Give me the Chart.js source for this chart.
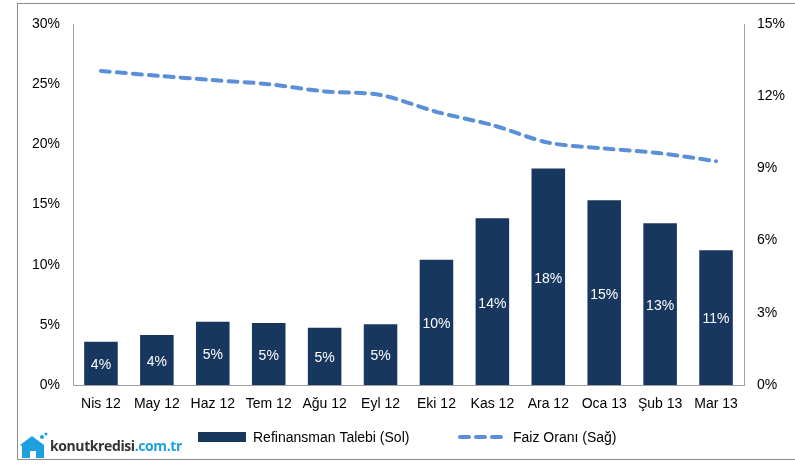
<!DOCTYPE html>
<html>
<head>
<meta charset="utf-8">
<script src="https://cdn.jsdelivr.net/npm/chart.js@4.4.0/dist/chart.umd.min.js"></script>
<style>
  html, body { margin: 0; padding: 0; background: #fff; }
  #wrap { position: relative; width: 795px; height: 464px; overflow: hidden; }
  #frame { position: absolute; left: 17px; top: 3px; width: 800px; height: 457px; border: 1px solid #8c8c8c; box-sizing: border-box; }
  #grafico { position: absolute; left: 0; top: 0; }
  #logo { position: absolute; left: 18px; top: 430px; height: 30px; display: flex; align-items: center; font-family: "Open Sans", "Liberation Sans", sans-serif; font-size: 14px; letter-spacing: -0.4px; }
  #logo .k { color: #333; font-weight: 700; }
  #logo .c { color: #1ea0de; font-weight: 700; }
</style>
</head>
<body>
<div id="wrap">
  <div id="frame"></div>
  <canvas id="grafico" width="795" height="464"></canvas>
  <div id="logo">
    <svg width="32" height="28" viewBox="0 0 32 28">
      <path d="M2 14 L14 5 L26 14 L26 27 L18 27 L18 20 L12 20 L12 27 L4 27 L4 15 Z" fill="#1ea0de"/>
      <circle cx="24" cy="6" r="2" fill="#1ea0de"/>
      <circle cx="28" cy="3" r="1.5" fill="#1ea0de"/>
    </svg>
    <span class="k">konutkredisi</span><span class="c">.com.tr</span>
  </div>
</div>
<script>
const meses = ["Nis 12", "May 12", "Haz 12", "Tem 12", "Ağu 12", "Eyl 12", "Eki 12", "Kas 12", "Ara 12", "Oca 13", "Şub 13", "Mar 13"];
const refinansman = [3.6, 4.15, 5.25, 5.15, 4.75, 5.05, 10.4, 13.85, 18.0, 15.35, 13.45, 11.2];
const faizOrani = [13.05, 12.85, 12.67, 12.5, 12.2, 12.05, 11.35, 10.8, 10.07, 9.83, 9.63, 9.3];
const nomeBarra = "Refinansman Talebi (Sol)";
const nomeLinha = "Faiz Oranı (Sağ)";

const corBarra = "#17375e";
const corLinha = "#5b8fd8";
const fonte = "'Liberation Sans', Arial, sans-serif";

// rotulos brancos dentro das barras
const rotulosBarra = {
  id: "rotulosBarra",
  afterDatasetsDraw(chart) {
    const ctx = chart.ctx;
    const meta = chart.getDatasetMeta(0);
    ctx.save();
    ctx.fillStyle = "#ffffff";
    ctx.font = "14px " + fonte;
    ctx.textAlign = "center";
    ctx.textBaseline = "middle";
    meta.data.forEach(function (bar, i) {
      const meio = (bar.y + bar.base) / 2;
      ctx.fillText(Math.round(refinansman[i]) + "%", bar.x, meio + 2);
    });
    ctx.restore();
  },
};

// legenda desenhada na mao (barra + linha tracejada)
const legenda = {
  id: "legenda",
  afterDraw(chart) {
    const ctx = chart.ctx;
    const y = 437;
    ctx.save();
    ctx.font = "14px " + fonte;
    ctx.textBaseline = "middle";
    ctx.fillStyle = corBarra;
    ctx.fillRect(198, y - 5, 48, 10);
    ctx.fillStyle = "#000";
    ctx.fillText(chart.data.datasets[0].label, 253, y + 1);

    ctx.strokeStyle = corLinha;
    ctx.lineWidth = 4;
    ctx.lineCap = "round";
    ctx.setLineDash([9, 7]);
    ctx.beginPath();
    ctx.moveTo(460, y);
    ctx.lineTo(503, y);
    ctx.stroke();
    ctx.setLineDash([]);
    ctx.fillText(chart.data.datasets[1].label, 513, y + 1);
    ctx.restore();
  },
};

new Chart(document.getElementById("grafico"), {
  type: "bar",
  plugins: [rotulosBarra, legenda],
  data: {
    labels: meses,
    datasets: [
      {
        label: nomeBarra,
        data: refinansman,
        yAxisID: "y",
        backgroundColor: corBarra,
        borderWidth: 0,
        barPercentage: 0.6,
        categoryPercentage: 1,
        order: 1,
      },
      {
        type: "line",
        label: nomeLinha,
        data: faizOrani,
        yAxisID: "y2",
        borderColor: corLinha,
        borderWidth: 4,
        borderDash: [9, 7],
        borderCapStyle: "round",
        pointRadius: 0,
        tension: 0.3,
        fill: false,
        order: 0,
      },
    ],
  },
  options: {
    responsive: false,
    animation: false,
    layout: { padding: { top: 24, left: 0, right: 0, bottom: 0 } },
    plugins: {
      legend: { display: false },
      tooltip: { enabled: false },
    },
    scales: {
      x: {
        grid: { display: false, drawTicks: false },
        border: { display: true, color: "#a0a0a0", width: 1 },
        ticks: { color: "#000", font: { family: fonte, size: 14 }, padding: 11, maxRotation: 0, autoSkip: false },
        afterFit: function (s) { s.height = 79; },
      },
      y: {
        position: "left",
        min: 0,
        max: 30,
        grid: { display: false, drawTicks: false },
        border: { display: true, color: "#a0a0a0", width: 1 },
        ticks: { stepSize: 5, color: "#000", font: { family: fonte, size: 14 }, padding: 13, callback: function (v) { return v + "%"; } },
        afterFit: function (s) { s.width = 73; },
      },
      y2: {
        position: "right",
        min: 0,
        max: 15,
        grid: { display: false, drawTicks: false },
        border: { display: true, color: "#a0a0a0", width: 1 },
        ticks: { stepSize: 3, color: "#000", font: { family: fonte, size: 14 }, padding: 13, callback: function (v) { return v + "%"; } },
        afterFit: function (s) { s.width = 51; },
      },
    },
  },
});
</script>
</body>
</html>
